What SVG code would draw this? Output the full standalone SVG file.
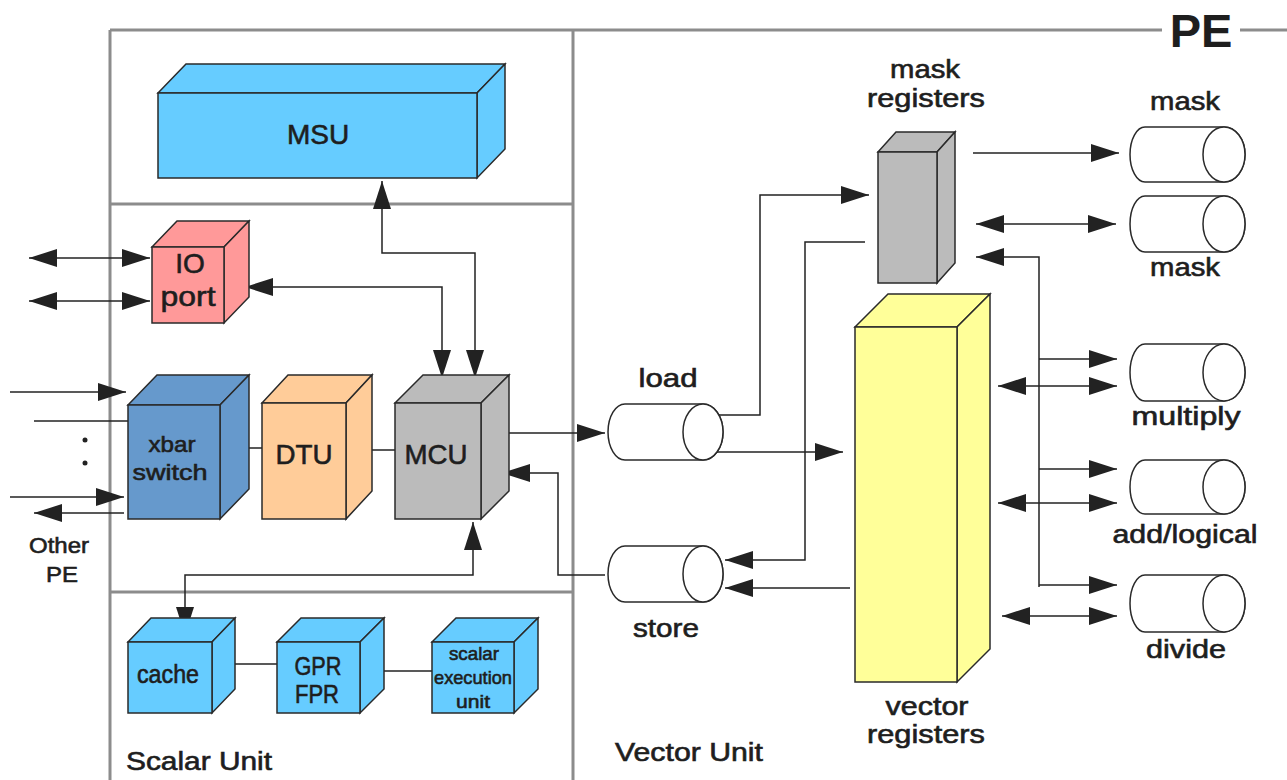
<svg xmlns="http://www.w3.org/2000/svg" width="1287" height="780" viewBox="0 0 1287 780">
<defs>
<style>
.frame{fill:none;stroke:#8c8c8c;stroke-width:3}
.box{stroke:#2a2a2a;stroke-width:1.5;stroke-linejoin:miter}
.blue{fill:#66ccff}.pink{fill:#ff9999}.steel{fill:#6699cc}.orange{fill:#ffcc99}.gray{fill:#bbbbbb}.yellow{fill:#ffff99}
.cyl{fill:#ffffff;stroke:#2a2a2a;stroke-width:1.5}
.c{fill:none;stroke:#222;stroke-width:1.5}
.a{marker-end:url(#ah)}
.b{marker-start:url(#ah);marker-end:url(#ah)}
text{font-family:"Liberation Sans",Arial,sans-serif;fill:#1e1e1e;stroke:#1e1e1e;stroke-width:0.6;text-anchor:middle}
.t28{font-size:28px}.t25{font-size:25px}.t22{font-size:22px}.t19{font-size:19px}
</style>
<marker id="ah" viewBox="0 0 28 18" refX="28" refY="9" markerWidth="28" markerHeight="18" markerUnits="userSpaceOnUse" orient="auto-start-reverse">
<path d="M0,0 L28,9 L0,18 Z" fill="#222"/>
</marker>
</defs>

<g id="frame">
<path class="frame" d="M110,30 H1162 M1240,30 H1287 M110,30 V780 M573,30 V780 M110,204 H573 M110,592 H573"/>
<text x="1201" y="47" style="font-size:47px;font-weight:bold;stroke-width:0">PE</text>
<text x="126" y="770" class="t25" style="text-anchor:start" textLength="146" lengthAdjust="spacingAndGlyphs">Scalar Unit</text>
<text x="615" y="761" class="t25" style="text-anchor:start" textLength="148" lengthAdjust="spacingAndGlyphs">Vector Unit</text>
</g>

<g id="connectors">
<path class="c b" d="M29,258 H150"/>
<path class="c b" d="M29,301 H150"/>
<path class="c a" d="M10,392 H126"/>
<path class="c" d="M34,421 H128"/>
<path class="c a" d="M10,497 H124"/>
<path class="c a" d="M124,513 H34"/>
<circle cx="85" cy="440" r="2.5" fill="#222"/>
<circle cx="85" cy="463" r="2.5" fill="#222"/>
<path class="c" d="M228,448 H262"/>
<path class="c" d="M358,450 H395"/>
<path class="c b" d="M475,378 V253 H382 V181"/>
<path class="c b" d="M442,378 V287 H245"/>
<path class="c a" d="M487,433 H605"/>
<path class="c a" d="M605,575 H558 V473 H502"/>
<path class="c b" d="M473,522 V575 H185 V635"/>
<path class="c" d="M225,664 H277"/>
<path class="c" d="M370,671 H432"/>
<path class="c a" d="M707,415 H760 V195 H869"/>
<path class="c a" d="M707,452 H843"/>
<path class="c a" d="M865,242 H805 V560 H725"/>
<path class="c a" d="M850,588 H725"/>
<path class="c a" d="M973,153 H1119"/>
<path class="c b" d="M976,224 H1116"/>
<path class="c a" d="M1039,587 V257 H976"/>
<path class="c a" d="M1039,359 H1117"/>
<path class="c a" d="M1039,469 H1117"/>
<path class="c a" d="M1039,585 H1117"/>
<path class="c b" d="M998,386 H1117"/>
<path class="c b" d="M998,503 H1117"/>
<path class="c b" d="M1002,616 H1117"/>
</g>

<g id="msu">
<polygon class="box blue" points="158,93 186,64 505,64 477,93"/>
<polygon class="box blue" points="477,93 505,64 505,149 477,178"/>
<rect class="box blue" x="158" y="93" width="319" height="85"/>
<text x="318" y="144" class="t28">MSU</text>
</g>

<g id="io-port">
<polygon class="box pink" points="152,247 177,221 249,221 224,247"/>
<polygon class="box pink" points="224,247 249,221 249,297 224,323"/>
<rect class="box pink" x="152" y="247" width="72" height="76"/>
<text x="190" y="273" class="t28">IO</text>
<text x="188" y="306" class="t28" textLength="55" lengthAdjust="spacingAndGlyphs">port</text>
</g>

<g id="xbar-switch">
<polygon class="box steel" points="128,405 157,375 249,375 220,405"/>
<polygon class="box steel" points="220,405 249,375 249,489 220,519"/>
<rect class="box steel" x="128" y="405" width="92" height="114"/>
<text x="172" y="452" class="t22" textLength="47" lengthAdjust="spacingAndGlyphs">xbar</text>
<text x="170" y="480" class="t22" textLength="75" lengthAdjust="spacingAndGlyphs">switch</text>
</g>

<g id="dtu">
<polygon class="box orange" points="262,403 288,375 372,375 346,403"/>
<polygon class="box orange" points="346,403 372,375 372,491 346,519"/>
<rect class="box orange" x="262" y="403" width="84" height="116"/>
<text x="304" y="464" class="t28" textLength="57" lengthAdjust="spacingAndGlyphs">DTU</text>
</g>

<g id="mcu">
<polygon class="box gray" points="395,403 423,375 509,375 481,403"/>
<polygon class="box gray" points="481,403 509,375 509,491 481,519"/>
<rect class="box gray" x="395" y="403" width="86" height="116"/>
<text x="436" y="464" class="t28" textLength="63" lengthAdjust="spacingAndGlyphs">MCU</text>
</g>

<g id="other-pe">
<text x="59" y="553" class="t22" textLength="60" lengthAdjust="spacingAndGlyphs">Other</text>
<text x="62" y="582" class="t22" textLength="32" lengthAdjust="spacingAndGlyphs">PE</text>
</g>

<g id="cache">
<polygon class="box blue" points="128,642 151,618 235,618 212,642"/>
<polygon class="box blue" points="212,642 235,618 235,689 212,713"/>
<rect class="box blue" x="128" y="642" width="84" height="71"/>
<text x="168" y="683" class="t25" textLength="62" lengthAdjust="spacingAndGlyphs">cache</text>
</g>

<g id="gpr-fpr">
<polygon class="box blue" points="277,642 301,618 384,618 360,642"/>
<polygon class="box blue" points="360,642 384,618 384,689 360,713"/>
<rect class="box blue" x="277" y="642" width="83" height="71"/>
<text x="318" y="675" class="t25" textLength="47" lengthAdjust="spacingAndGlyphs">GPR</text>
<text x="317" y="703" class="t25" textLength="44" lengthAdjust="spacingAndGlyphs">FPR</text>
</g>

<g id="scalar-execution-unit">
<polygon class="box blue" points="432,642 456,618 538,618 514,642"/>
<polygon class="box blue" points="514,642 538,618 538,689 514,713"/>
<rect class="box blue" x="432" y="642" width="82" height="71"/>
<text x="474" y="660" class="t19" textLength="50" lengthAdjust="spacingAndGlyphs">scalar</text>
<text x="473" y="684" class="t19" textLength="78" lengthAdjust="spacingAndGlyphs">execution</text>
<text x="473" y="708" class="t19" textLength="34" lengthAdjust="spacingAndGlyphs">unit</text>
</g>

<g id="load">
<path class="cyl" d="M625,404 H703 A20,28 0 0 1 703,460 H625 A17,28 0 0 1 625,404 Z"/>
<ellipse class="cyl" cx="703" cy="432" rx="20" ry="28" fill="none"/>
<text x="668" y="387" class="t25" textLength="59" lengthAdjust="spacingAndGlyphs">load</text>
</g>

<g id="store">
<path class="cyl" d="M625,546 H703 A20,28 0 0 1 703,602 H625 A17,28 0 0 1 625,546 Z"/>
<ellipse class="cyl" cx="703" cy="574" rx="20" ry="28" fill="none"/>
<text x="666" y="637" class="t25" textLength="66" lengthAdjust="spacingAndGlyphs">store</text>
</g>

<g id="mask-registers">
<polygon class="box gray" points="878,152 896,132 955,132 937,152"/>
<polygon class="box gray" points="937,152 955,132 955,263 937,283"/>
<rect class="box gray" x="878" y="152" width="59" height="131"/>
<text x="925" y="78" class="t25" textLength="70" lengthAdjust="spacingAndGlyphs">mask</text>
<text x="926" y="107" class="t25" textLength="118" lengthAdjust="spacingAndGlyphs">registers</text>
</g>

<g id="vector-registers">
<polygon class="box yellow" points="855,327 888,294 990,294 957,327"/>
<polygon class="box yellow" points="957,327 990,294 990,649 957,682"/>
<rect class="box yellow" x="855" y="327" width="102" height="355"/>
<text x="927" y="715" class="t25" textLength="83" lengthAdjust="spacingAndGlyphs">vector</text>
<text x="926" y="743" class="t25" textLength="118" lengthAdjust="spacingAndGlyphs">registers</text>
</g>

<g id="mask-unit-1">
<path class="cyl" d="M1145,127 H1224 A21,27.5 0 0 1 1224,182 H1145 A15,27.5 0 0 1 1145,127 Z"/>
<ellipse class="cyl" cx="1224" cy="154.5" rx="21" ry="27.5"/>
<text x="1185" y="110" class="t25" textLength="70" lengthAdjust="spacingAndGlyphs">mask</text>
</g>

<g id="mask-unit-2">
<path class="cyl" d="M1145,196 H1224 A21,28 0 0 1 1224,252 H1145 A15,28 0 0 1 1145,196 Z"/>
<ellipse class="cyl" cx="1224" cy="224" rx="21" ry="28"/>
<text x="1185" y="276" class="t25" textLength="70" lengthAdjust="spacingAndGlyphs">mask</text>
</g>

<g id="multiply">
<path class="cyl" d="M1145,344 H1224 A21,28.5 0 0 1 1224,401 H1145 A15,28.5 0 0 1 1145,344 Z"/>
<ellipse class="cyl" cx="1224" cy="372.5" rx="21" ry="28.5"/>
<text x="1186" y="425" class="t25" textLength="109" lengthAdjust="spacingAndGlyphs">multiply</text>
</g>

<g id="add-logical">
<path class="cyl" d="M1145,460 H1224 A21,27 0 0 1 1224,514 H1145 A15,27 0 0 1 1145,460 Z"/>
<ellipse class="cyl" cx="1224" cy="487" rx="21" ry="27"/>
<text x="1185" y="543" class="t25" textLength="145" lengthAdjust="spacingAndGlyphs">add/logical</text>
</g>

<g id="divide">
<path class="cyl" d="M1145,575 H1224 A21,28.5 0 0 1 1224,632 H1145 A15,28.5 0 0 1 1145,575 Z"/>
<ellipse class="cyl" cx="1224" cy="603.5" rx="21" ry="28.5"/>
<text x="1186" y="658" class="t25" textLength="80" lengthAdjust="spacingAndGlyphs">divide</text>
</g>
</svg>
